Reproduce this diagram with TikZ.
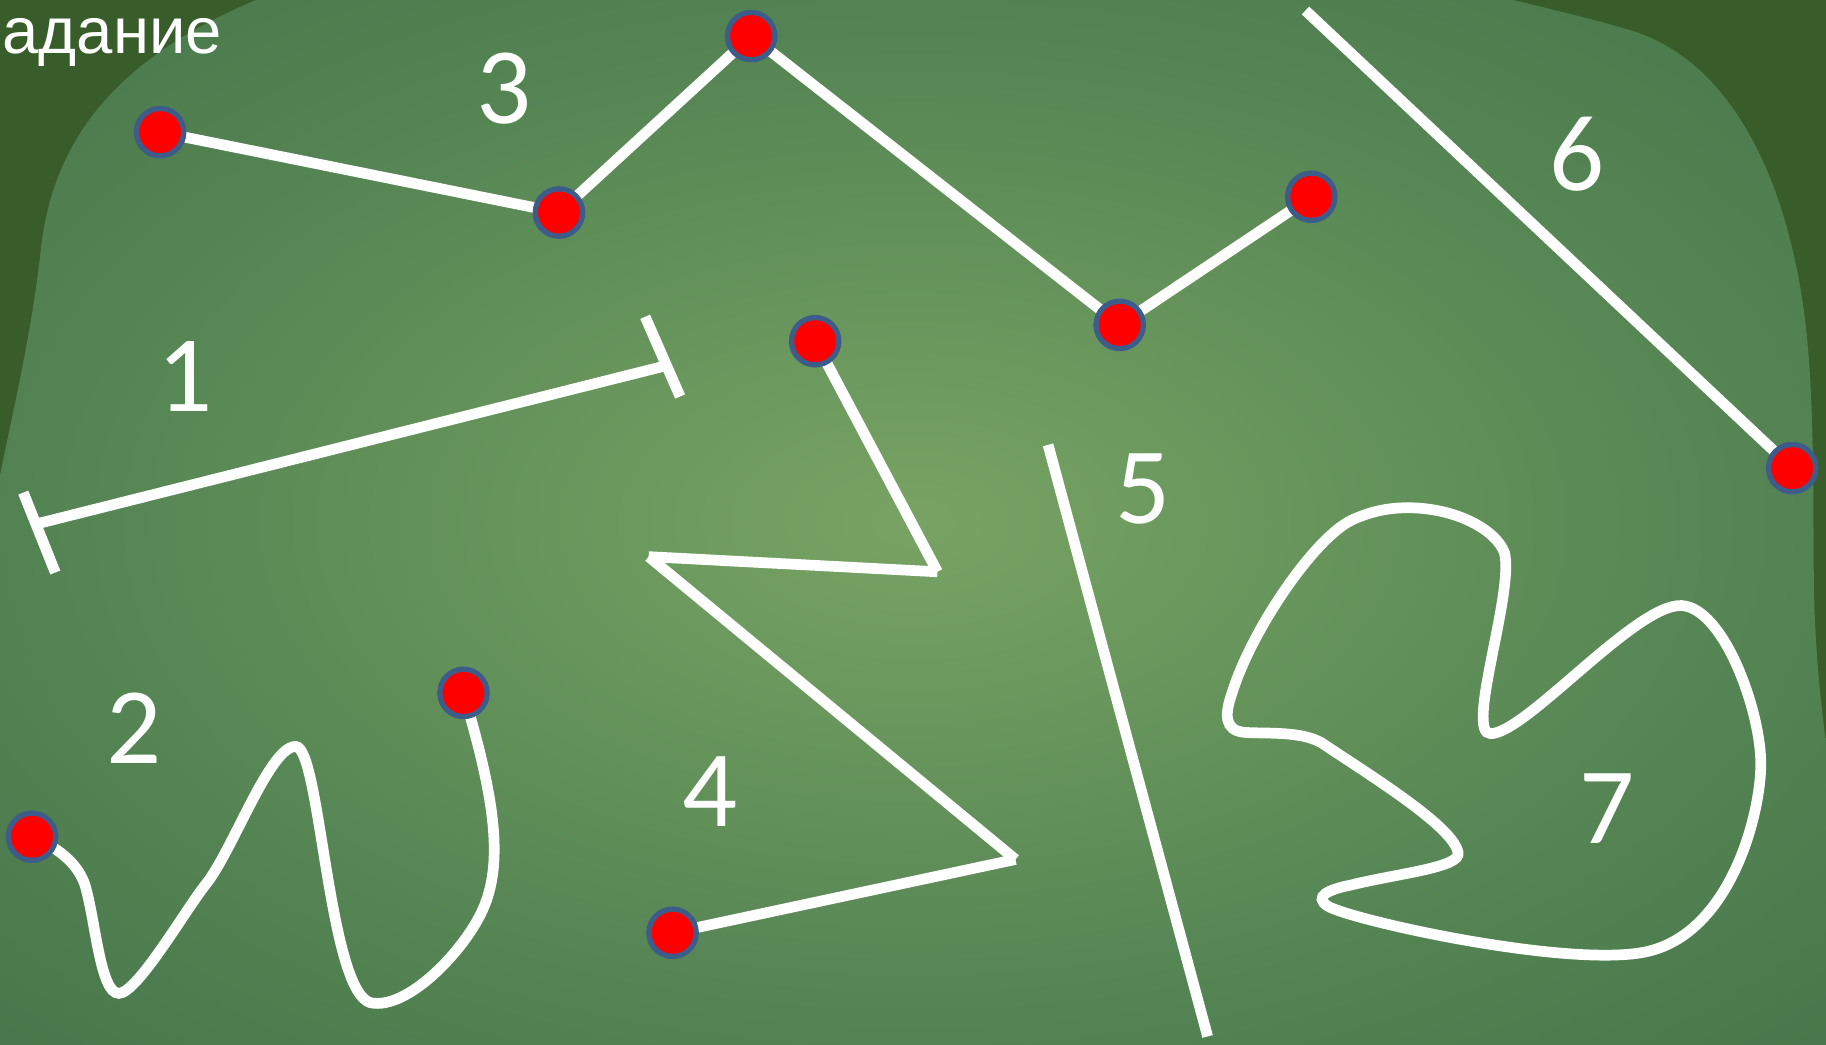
\documentclass[tikz,border=0pt]{standalone}
\usepackage{fontspec}
\setmainfont{Liberation Sans}
\newfontfamily\digitfont{Carlito}

\definecolor{boardedge}{RGB}{57,93,42}
\definecolor{glowcore}{RGB}{120,163,100}
\definecolor{glowmid}{RGB}{104,150,92}
\definecolor{glowinner}{RGB}{86,134,84}
\definecolor{glowouter}{RGB}{72,119,75}
\definecolor{boardface}{RGB}{66,111,70}
\definecolor{pinrim}{RGB}{61,92,138}
\pgfdeclareradialshading{boardglow}{\pgfpoint{0bp}{0bp}}{color(0bp)=(glowcore); color(10bp)=(glowmid); color(22bp)=(glowinner); color(35bp)=(glowouter); color(50bp)=(boardface)}

\begin{document}
\begin{tikzpicture}[x=0.75pt,y=0.75pt,yscale=-1,xscale=1,
  chalk/.style={draw=white, line width=6.9pt},
  pin/.style={circle, fill=red, draw=pinrim, line width=3.4pt, minimum size=30.5pt, inner sep=0pt},
  num/.style={text=white, inner sep=0pt, font=\digitfont\fontsize{70}{84}\selectfont}]
\useasboundingbox (0,0) rectangle (1568,897.3);
\clip (0,0) rectangle (1568,897.3);

%Board
\fill [boardedge] (0,0) rectangle (1568,897.3);
\shade [shading=boardglow] (0,897.3) -- (0,408) .. controls (12,350) and (28,280) .. (35,215) .. controls (45,120) and (100,50) .. (220,0) -- (1299,0) .. controls (1350,12) and (1380,20) .. (1400,26) .. controls (1480,50) and (1530,140) .. (1548,260) .. controls (1560,340) and (1556,450) .. (1558,520) .. controls (1560,580) and (1566,620) .. (1568,640) -- (1568,897.3) -- cycle ;

%Points
\coordinate (p31) at (137.5,113.5);
\coordinate (p32) at (480,182.5);
\coordinate (p33) at (645,31);
\coordinate (p34) at (961.5,279);
\coordinate (p35) at (1126,169);
\coordinate (p21) at (27.5,718.5);
\coordinate (p22) at (398,595);
\coordinate (p41) at (700,293);
\coordinate (p42) at (577.5,801);
\coordinate (p61) at (1539,402);
\coordinate (c41) at (805,491);
\coordinate (c42) at (557,478);
\coordinate (c43) at (872,738);
\coordinate (s1l) at (31,450);
\coordinate (s1r) at (572,314);
\coordinate (b1lt) at (20,423);
\coordinate (b1lb) at (47.5,491.6);
\coordinate (b1rt) at (554,272);
\coordinate (b1rb) at (584,340.5);
\coordinate (s5t) at (900,382);
\coordinate (s5b) at (1037,890);
\coordinate (s6t) at (1121,9);

%Straight Lines
\draw [chalk] (s1l) -- (s1r) ;
\draw [chalk] (b1lt) -- (b1lb) ;
\draw [chalk] (b1rt) -- (b1rb) ;
\draw [chalk] (p31) -- (p32) ;
\draw [chalk] (p32) -- (p33) ;
\draw [chalk] (p33) -- (p34) ;
\draw [chalk] (p34) -- (p35) ;
\draw [chalk] (p41) -- (c41) ;
\draw [chalk] (c41) -- (c42) ;
\draw [chalk] (c42) -- (c43) ;
\draw [chalk] (c43) -- (p42) ;
\draw [chalk] (s5t) -- (s5b) ;
\draw [chalk] (s6t) -- (p61) ;

%Curve Lines
\draw [chalk] (p21) .. controls (55,730) and (68,745) .. (73,760) .. controls (82,790) and (86,853) .. (102,853) .. controls (118,853) and (160,780) .. (177,759) .. controls (200,730) and (232,640) .. (254,641) .. controls (275,642) and (282,850) .. (318,861) .. controls (350,868) and (400,815) .. (415,780) .. controls (435,735) and (420,670) .. (p22) ;
\draw [chalk] (1209,436) .. controls (1250,436) and (1285,455) .. (1292,475) .. controls (1300,510) and (1258,630) .. (1280,630) .. controls (1310,630) and (1405,518) .. (1444,520) .. controls (1480,522) and (1512,610) .. (1512,656) .. controls (1512,700) and (1485,805) .. (1410,818) .. controls (1340,830) and (1160,790) .. (1140,778) .. controls (1128,770) and (1140,764) .. (1160,760) .. controls (1200,750) and (1255,745) .. (1252,732) .. controls (1248,710) and (1180,668) .. (1135,638) .. controls (1118,628) and (1090,630) .. (1070,629) .. controls (1050,628) and (1052,612) .. (1058,595) .. controls (1075,540) and (1130,460) .. (1162,446) .. controls (1180,438) and (1195,436) .. (1209,436) -- cycle ;

%Shapes: Circle
\node [pin] (d31) at (p31) {};
\node [pin] (d32) at (p32) {};
\node [pin] (d33) at (p33) {};
\node [pin] (d34) at (p34) {};
\node [pin] (d35) at (p35) {};
\node [pin] (d21) at (p21) {};
\node [pin] (d22) at (p22) {};
\node [pin] (d41) at (p41) {};
\node [pin] (d42) at (p42) {};
\node [pin] (d61) at (p61) {};

% Text Node
\node [anchor=base west, inner sep=0pt, text=white, font=\fontsize{42}{50}\selectfont] (title) at (2,46) {адание};
% Text Node
\node [num] (n1) at (159,323.5) {1};
\node [num] (n2) at (115,625) {2};
\node [num] (n3) at (432.5,76.5) {3};
\node [num] (n4) at (610,680) {4};
\node [num] (n5) at (981.5,420) {5};
\node [num] (n6) at (1354,132) {6};
\node [num] (n7) at (1380,694) {7};

\end{tikzpicture}
\end{document}
